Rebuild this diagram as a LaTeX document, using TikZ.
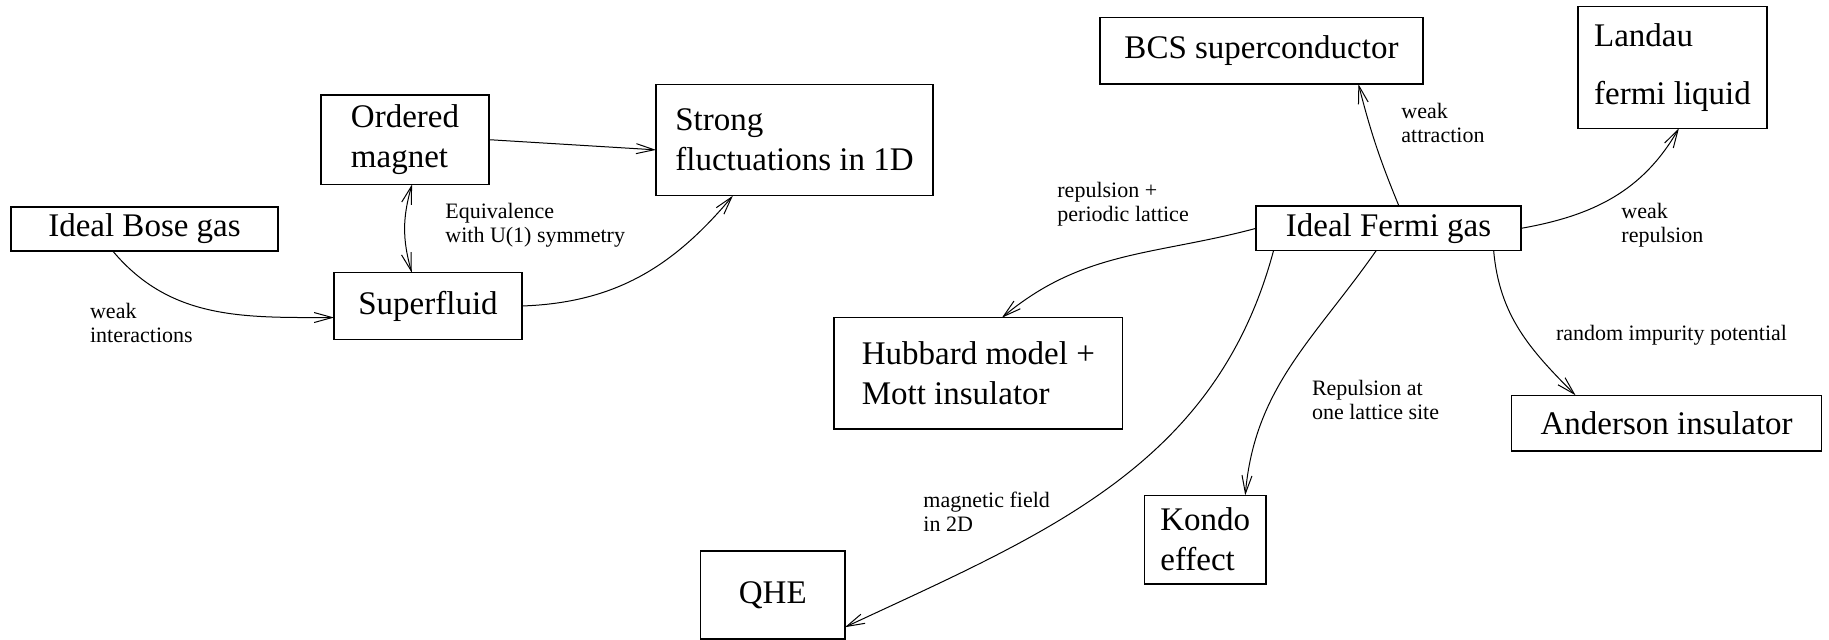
\documentclass[tikz,border=0pt]{standalone}
\usepackage{fontspec}
\setmainfont{Liberation Serif}
\usetikzlibrary{arrows.meta}

\tikzset{
  phase/.style={draw,line width=0.7pt,outer sep=0pt,inner sep=0pt,align=left,
    font=\fontsize{16.5}{20}\selectfont},
  note/.style={anchor=north west,inner sep=0pt,align=left,
    font=\fontsize{11}{12}\selectfont},
  flow/.style={line width=0.5pt,-{Straight Barb[length=9pt,width=5pt]}},
  both/.style={line width=0.5pt,{Straight Barb[length=9pt,width=5pt]}-{Straight Barb[length=9pt,width=5pt]}}
}

\begin{document}
\begin{tikzpicture}[x=0.5pt,y=-0.5pt]
  \useasboundingbox (0,0) rectangle (1829,640);

  % Bose side
  \node[phase,minimum width=133.5pt,minimum height=22.15pt] (bose) at (144.5,229) {Ideal Bose gas};
  \node[phase,minimum width=84pt,minimum height=44.65pt] (magnet) at (405,139.7) {Ordered\\magnet};
  \node[phase,minimum width=138.5pt,minimum height=55.5pt] (strong) at (794.5,140.2) {Strong\\fluctuations in 1D};
  \node[phase,minimum width=94pt,minimum height=33.3pt] (sfluid) at (428,306) {Superfluid};

  \draw[flow] (bose.-145) to[out=-50,in=180] (sfluid.-173);
  \draw[both] (magnet.-81) to[bend right=16] (sfluid.116);
  \draw[flow] (magnet.east) -- (strong.-176);
  \draw[flow] (sfluid.east) to[out=2,in=-130] (strong.-138);

  \node[note] (lweak) at (89.7,303) {weak\\interactions};
  \node[note] (lequiv) at (445,203) {Equivalence\\with U(1) symmetry};

  % Fermi side
  \node[phase,minimum width=161.5pt,minimum height=33.35pt] (bcs) at (1261.5,50.65) {BCS superconductor};
  \node[phase,minimum width=94.5pt,minimum height=60.8pt,font=\fontsize{16.5}{29}\selectfont] (landau) at (1672.5,67.5) {Landau\\fermi liquid};
  \node[phase,minimum width=132.5pt,minimum height=22.35pt] (fermi) at (1388.5,228.35) {Ideal Fermi gas};
  \node[phase,minimum width=144.3pt,minimum height=55.65pt] (hubbard) at (978.3,373.35) {Hubbard model +\\Mott insulator};
  \node[phase,minimum width=155pt,minimum height=27.85pt] (anderson) at (1666.65,423.15) {Anderson insulator};
  \node[phase,minimum width=60.7pt,minimum height=44.35pt] (kondo) at (1205.3,539.65) {Kondo\\effect};
  \node[phase,minimum width=72.25pt,minimum height=44pt] (qhe) at (772.75,595) {QHE};

  \draw[flow] (fermi.65) to[bend left=4] (bcs.-19);
  \draw[flow] (fermi.east) to[out=10,in=-120] (landau.-84);
  \draw[flow] (fermi.west) to[out=195,in=40] (hubbard.67);
  \draw[flow] (fermi.-169) to[out=-105,in=25] (qhe.-24.5);
  \draw[flow] (fermi.-119) to[out=-125,in=85] (kondo.48);
  \draw[flow] (fermi.-12.5) to[out=-85,in=135] (anderson.163);

  \node[note] (lattr) at (1401,103) {weak\\attraction};
  \node[note] (lrep) at (1057,182) {repulsion +\\periodic lattice};
  \node[note] (lwrep) at (1621,203) {weak\\repulsion};
  \node[note] (lrand) at (1555.6,325) {random impurity potential};
  \node[note] (lsite) at (1311.6,380) {Repulsion at\\one lattice site};
  \node[note] (lmag) at (923,492) {magnetic field\\in 2D};
\end{tikzpicture}
\end{document}
